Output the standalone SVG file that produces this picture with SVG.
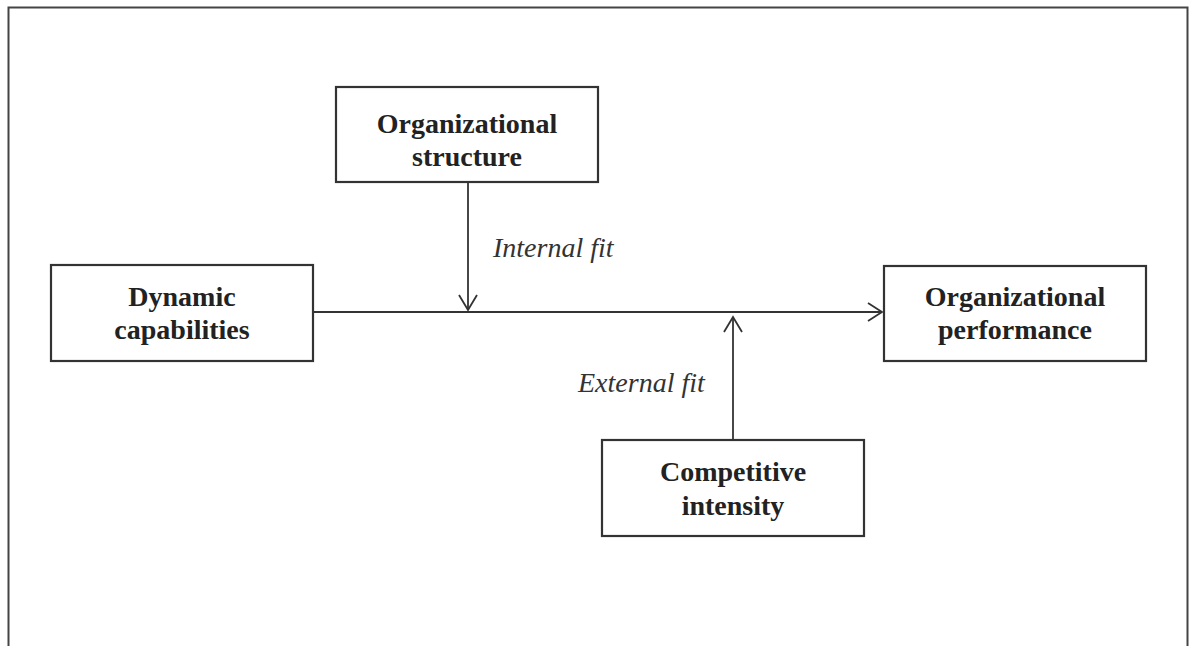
<svg xmlns="http://www.w3.org/2000/svg" width="1198" height="646" viewBox="0 0 1198 646">
<style>
.box{fill:#fff;stroke:#333;stroke-width:2.2}
.frame{fill:none;stroke:#444;stroke-width:2}
.lbl{font-family:"Liberation Serif","Times New Roman",serif;font-weight:bold;font-size:28px;fill:#222;text-anchor:middle}
.fit{font-family:"Liberation Serif","Times New Roman",serif;font-style:italic;font-size:28px;fill:#333}
.ln{fill:none;stroke:#333;stroke-width:1.8}
.ah{fill:none;stroke:#333;stroke-width:1.8;stroke-linejoin:miter}
</style>
<rect width="1198" height="646" fill="#fff"/>
<path class="frame" d="M8.5,646 V7.5 H1187.5 V646"/>
<g id="connectors">
<line class="ln" x1="313" y1="312" x2="882" y2="312"/>
<polyline class="ah" points="868,303 882,312 868,321"/>
<line class="ln" x1="468" y1="183" x2="468" y2="310"/>
<polyline class="ah" points="459,295 468,310 477,295"/>
<line class="ln" x1="733" y1="439" x2="733" y2="317"/>
<polyline class="ah" points="724,332 733,317 742,332"/>
<text class="fit" x="493" y="257">Internal fit</text>
<text class="fit" x="578" y="392">External fit</text>
</g>
<g id="org-structure">
<rect class="box" x="336" y="87" width="262" height="95"/>
<text class="lbl" x="467" y="133">Organizational</text>
<text class="lbl" x="467" y="166">structure</text>
</g>
<g id="dynamic-capabilities">
<rect class="box" x="51" y="265" width="262" height="96"/>
<text class="lbl" x="182" y="306">Dynamic</text>
<text class="lbl" x="182" y="339">capabilities</text>
</g>
<g id="org-performance">
<rect class="box" x="884" y="266" width="262" height="95"/>
<text class="lbl" x="1015" y="306">Organizational</text>
<text class="lbl" x="1015" y="339">performance</text>
</g>
<g id="competitive-intensity">
<rect class="box" x="602" y="440" width="262" height="96"/>
<text class="lbl" x="733" y="481">Competitive</text>
<text class="lbl" x="733" y="515">intensity</text>
</g>
</svg>
